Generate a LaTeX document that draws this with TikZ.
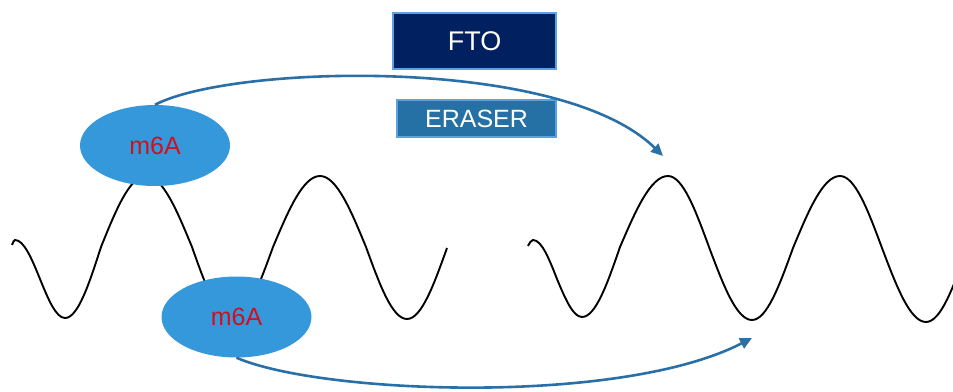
\documentclass[tikz,border=0pt]{standalone}
\usepackage{fontspec}
\setmainfont{Liberation Sans}
\usetikzlibrary{shapes.geometric,arrows.meta}
\definecolor{navy}{HTML}{002060}
\definecolor{boxedge}{HTML}{5BA3DF}
\definecolor{erasefill}{HTML}{2570A5}
\definecolor{blobfill}{HTML}{3598DB}
\definecolor{markred}{HTML}{D0101C}
\definecolor{arrowblue}{HTML}{2A70A8}
\begin{document}
\begin{tikzpicture}[x=1pt,y=-1pt,
  labelbox/.style={draw=boxedge, line width=1.5pt, text=white, inner sep=0pt},
  blob/.style={ellipse, fill=blobfill, minimum width=150pt, minimum height=81pt, inner sep=0pt, text=markred, font=\fontsize{25}{28}\selectfont},
  wave/.style={black, line width=1.9pt},
  move/.style={arrowblue, line width=2.6pt, -{Triangle[length=12pt,width=11pt]}}]
\useasboundingbox (0,0) rectangle (953,391);
\clip (0,0) rectangle (953,391);
% waves
\draw[wave] (12,245) sin (15,240) cos (40,279) sin (65,318) cos (101,247) sin (146,176) cos (192,247) sin (232,319) cos (273,247) sin (320,176) cos (366,247) sin (407,319) cos (447,248);
\draw[wave] (528,246) sin (533,240) cos (557,279) sin (582,317) cos (620,247) sin (668,176) cos (709,247) sin (752,320) cos (793,248) sin (840,176) cos (882,248) sin (926,322) cos (967,249);
% labels
\node[labelbox, fill=navy, minimum width=163pt, minimum height=56pt, font=\fontsize{27}{30}\selectfont] (fto) at (474.5,41) {FTO};
\node[labelbox, fill=erasefill, minimum width=159pt, minimum height=37pt, font=\fontsize{25}{28}\selectfont] (eraser) at (476.5,118.5) {ERASER};
% m6A marks
\node[blob] (m1) at (155,145.5) {\raisebox{-3pt}{m6A}};
\node[blob] (m2) at (236.5,317) {\raisebox{-3pt}{m6A}};
% arrows
\coordinate (t1) at (663,156);
\coordinate (t2) at (752,338);
\draw[move] (m1.north) .. controls (230,65) and (560,55) .. (t1);
\draw[move] (m2.south) .. controls (320,394) and (620,406) .. (t2);
\end{tikzpicture}
\end{document}
